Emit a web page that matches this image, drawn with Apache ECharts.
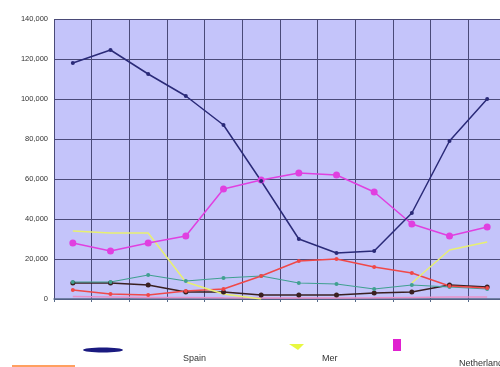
<!DOCTYPE html>
<html><head><meta charset="utf-8">
<script src="https://cdn.jsdelivr.net/npm/echarts@6/dist/echarts.min.js"></script>
<style>html,body{margin:0;padding:0;background:#fff;overflow:hidden;width:500px;height:367px}#c{width:506px;height:367px}</style>
</head><body><div id="c"></div>
<script>
const months = ['Jan','Feb','Mar','Apr','May','Jun','Jul','Aug','Sep','Oct','Nov','Dec'];
const spain = [118000,124500,112500,101500,87000,59000,30000,23000,24000,43000,79000,100000];
const mer = [34000,33000,33000,8500,2500,0,null,null,null,8000,24500,28500];
const netherlands = [28000,24000,28000,31500,55000,59500,63000,62000,53500,37500,31500,36000];
const teal = [8500,8500,12000,9000,10500,11500,8000,7500,5000,7000,6000,5000];
const dark = [8000,8000,7000,3500,3500,2000,2000,2000,3000,3500,7000,6000];
const red = [4500,2500,2000,4000,5000,11500,19000,20000,16000,13000,6500,5500];
const lightPink = [1200,1000,800,800,600,500,500,500,600,800,1000,1000];
const yMin = 0, yMax = 140000, yStep = 20000;

const chart = echarts.init(document.getElementById('c'));
function line(name, data, color, symbol, size, width){
  return {name, type:'line', data, symbol, symbolSize:size, connectNulls:false,
    lineStyle:{color, width}, itemStyle:{color}, emphasis:{disabled:true}, z:3};
}
chart.setOption({
  animation:false,
  backgroundColor:'#ffffff',
  grid:{left:54, top:19, right:0, bottom:68, show:true, backgroundColor:'#c4c4fa', borderWidth:0},
  xAxis:{type:'category', data:months, boundaryGap:true,
    axisLine:{show:true, lineStyle:{color:'#556a8a', width:1.5}}, axisTick:{show:true, length:3, lineStyle:{color:'#556a8a'}},
    axisLabel:{show:false},
    splitLine:{show:true, interval:0, lineStyle:{color:'#4a4a78', width:1}}},
  yAxis:{type:'value', min:yMin, max:yMax, interval:yStep,
    axisLine:{show:false}, axisTick:{show:false},
    axisLabel:{fontSize:7.5, color:'#333', fontFamily:'Liberation Sans', margin:6,
      formatter:v=>v.toLocaleString('en-US')},
    splitLine:{show:true, lineStyle:{color:'#4a4a78', width:1}}},
  series:[
    line('Light', lightPink, '#e890c8', 'none', 0, 1.5),
    line('Dark', dark, '#3a2020', 'circle', 5, 1.5),
    line('Teal', teal, '#40a090', 'circle', 4, 1.2),
    line('Red', red, '#f04848', 'circle', 4, 1.5),
    line('Mer', mer, '#e8f070', 'none', 0, 1.5),
    line('Netherlands', netherlands, '#e040e0', 'circle', 7, 1.5),
    line('Spain', spain, '#2a2a78', 'circle', 4, 1.5)
  ],
  graphic:[
    {type:'ellipse', shape:{cx:103, cy:350, rx:20, ry:2.5}, style:{fill:'#1a1a80'}},
    {type:'text', left:183, top:354, style:{text:'Spain', fontSize:9, fill:'#333', fontFamily:'Liberation Sans'}},
    {type:'polygon', shape:{points:[[289,344],[304,344],[298,350]]}, style:{fill:'#e8f840'}},
    {type:'text', left:322, top:354, style:{text:'Mer', fontSize:9, fill:'#333', fontFamily:'Liberation Sans'}},
    {type:'rect', shape:{x:393, y:339, width:8, height:12}, style:{fill:'#e020d0'}},
    {type:'text', left:459, top:359, style:{text:'Netherlands', fontSize:9, fill:'#333', fontFamily:'Liberation Sans'}},
    {type:'line', shape:{x1:12, y1:366, x2:75, y2:366}, style:{stroke:'#ffa060', lineWidth:2}}
  ]
});
</script></body></html>
